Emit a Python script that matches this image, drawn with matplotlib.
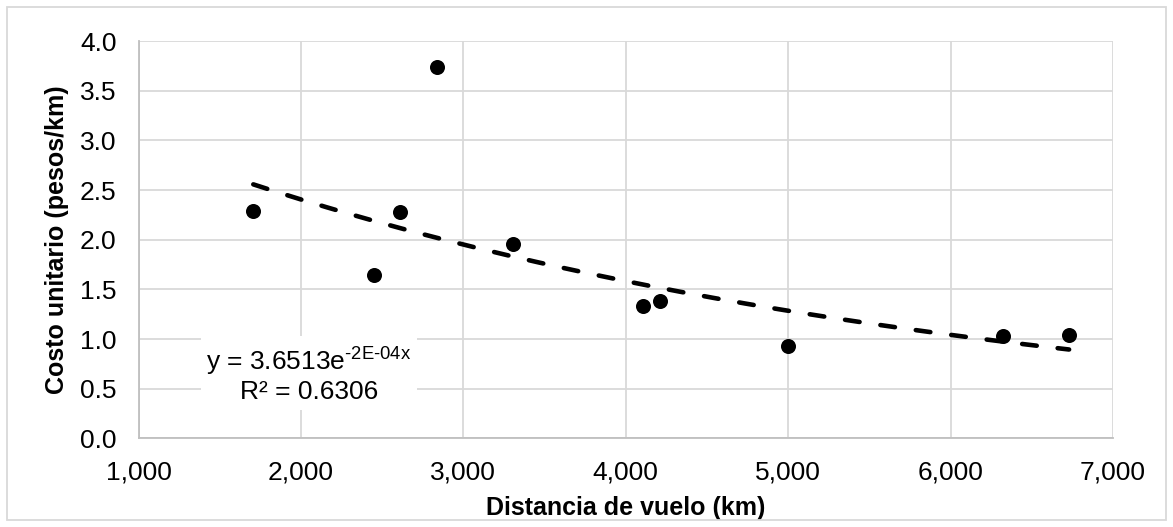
import matplotlib
matplotlib.use("Agg")
import matplotlib.pyplot as plt
import matplotlib.patches as patches
from matplotlib.ticker import FuncFormatter, MultipleLocator
import numpy as np

plt.rcParams['font.family'] = ['Liberation Sans', 'DejaVu Sans']
plt.rcParams['mathtext.fontset'] = 'custom'
plt.rcParams['mathtext.rm'] = 'Liberation Sans'

# Data
distancia = [1706, 2451, 2609, 2835, 3307, 4103, 4210, 5000, 6320, 6730]
costo = [2.29, 1.65, 2.28, 3.74, 1.96, 1.33, 1.38, 0.93, 1.03, 1.04]

x_label = "Distancia de vuelo (km)"
y_label = "Costo unitario (pesos/km)"
eq_text = "y = 3.6513e$^{\\text{-2E-04x}}$\nR² = 0.6306"

grid_color = '#d9d9d9'

fig = plt.figure(figsize=(11.73, 5.27), dpi=100)
ax = fig.add_axes([0.1182, 0.168, 0.9488 - 0.1182, 0.9222 - 0.168])

# exponential trendline fitted on the data (as the spreadsheet does)
x = np.array(distancia, dtype=float)
y = np.array(costo, dtype=float)
b, ln_a = np.polyfit(x, np.log(y), 1)
xs = np.linspace(x.min(), x.max(), 200)
ax.plot(xs, np.exp(ln_a) * np.exp(b * xs), color='black', lw=3.3,
        dashes=(3.2, 4.6), dash_capstyle='round', zorder=3)

ax.scatter(x, y, s=117, color='black', zorder=4, linewidths=0)

ax.set_xlim(1000, 7000)
ax.set_ylim(0, 4)
ax.xaxis.set_major_locator(MultipleLocator(1000))
ax.yaxis.set_major_locator(MultipleLocator(0.5))
ax.xaxis.set_major_formatter(FuncFormatter(lambda v, p: f"{v:,.0f}"))
ax.yaxis.set_major_formatter(FuncFormatter(lambda v, p: f"{v:.1f}"))
ax.grid(True, color=grid_color, lw=1.3, zorder=0)
ax.set_axisbelow(True)

for side in ['top', 'right']:
    ax.spines[side].set_visible(False)
for side in ['left', 'bottom']:
    ax.spines[side].set_color('#bfbfbf')
    ax.spines[side].set_linewidth(1.3)

ax.tick_params(axis='both', length=0, labelsize=19, colors='black')
ax.tick_params(axis='x', pad=16)
ax.tick_params(axis='y', pad=16)

ax.set_xlabel(x_label, fontsize=18, fontweight='bold')
ax.set_ylabel(y_label, fontsize=18, fontweight='bold')
ax.xaxis.set_label_coords(0.5, -0.175)
ax.xaxis.label.set_va('center')
ax.yaxis.set_label_coords(-0.0839, 0.5)
ax.yaxis.label.set_va('center')

ax.text(0.1748, 0.162, eq_text, transform=ax.transAxes, ha='center', va='center',
        fontsize=19, linespacing=1.2, zorder=5,
        bbox=dict(boxstyle='square,pad=0.2', facecolor='white', edgecolor='none'))

# outer chart border
fig.patches.append(patches.Rectangle((7 / 1173, 7 / 527), 1159 / 1173, 513 / 527,
                                     transform=fig.transFigure, fill=False,
                                     edgecolor=grid_color, lw=1.3))

fig.savefig('out.png', dpi=100)
